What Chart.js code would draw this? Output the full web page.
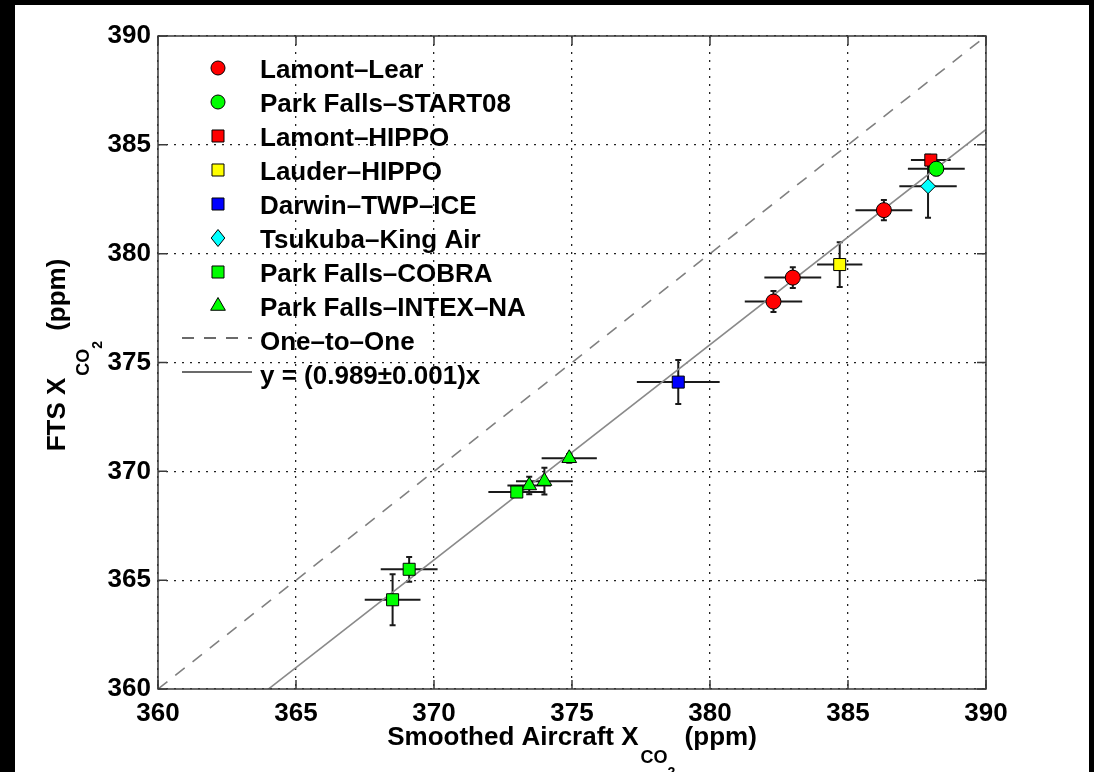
<!DOCTYPE html>
<html>
  <head>
    <script src="https://cdn.jsdelivr.net/npm/chart.js@4"></script>
    <style>
      body { margin: 0; background: #000; width: 1094px; height: 772px; overflow: hidden; }
      #plot { position: absolute; left: 15px; top: 5px; background: #fff; }
    </style>
  </head>

  <body>
    <canvas id="plot" width="1074" height="767"></canvas>
  </body>

  <script>
    // FTS vs smoothed aircraft XCO2 (ppm), with 1-sigma error bars
    var axisTicks = [360, 365, 370, 375, 380, 385, 390];

    var lamontLearX = [382.3, 383.0, 386.3];
    var lamontLearY = [377.8, 378.9, 382.0];
    var lamontLearXErr = [1.04, 1.03, 1.03];
    var lamontLearYErr = [0.48, 0.48, 0.47];

    var start08X = [388.2];
    var start08Y = [383.9];
    var start08XErr = [1.03];
    var start08YErr = [0.3];

    var lamontHippoX = [388.0];
    var lamontHippoY = [384.3];
    var lamontHippoXErr = [0.72];
    var lamontHippoYErr = [0.2];

    var lauderHippoX = [384.7];
    var lauderHippoY = [379.5];
    var lauderHippoXErr = [0.82];
    var lauderHippoYErr = [1.03];

    var darwinX = [378.85];
    var darwinY = [374.1];
    var darwinXErr = [1.5];
    var darwinYErr = [1.01];

    var tsukubaX = [387.9];
    var tsukubaY = [383.1];
    var tsukubaXErr = [1.04];
    var tsukubaYErr = [1.45];

    var cobraX = [368.5, 369.1, 373.0];
    var cobraY = [364.1, 365.5, 369.05];
    var cobraXErr = [1.01, 1.03, 1.03];
    var cobraYErr = [1.17, 0.57, 0.2];

    var intexX = [373.45, 374.0, 374.9];
    var intexY = [369.35, 369.55, 370.6];
    var intexXErr = [0.79, 1.03, 1.0];
    var intexYErr = [0.4, 0.62, 0.2];

    var fitSlope = 0.989;
    var fitSlopeErr = 0.001;

    var FONT = "'Liberation Sans', Arial, sans-serif";

    function pts(xs, ys) {
      return xs.map(function (x, i) { return { x: x, y: ys[i] }; });
    }

    function series(label, xs, ys, xe, ye, style, colour, radius) {
      return {
        type: "scatter",
        label: label,
        data: pts(xs, ys),
        xErr: xe,
        yErr: ye,
        pointStyle: style,
        pointRadius: radius,
        pointHoverRadius: radius,
        backgroundColor: colour,
        borderColor: "#000",
        borderWidth: 1,
        order: 1,
      };
    }

    var sets = [
      series("Lamont\u2013Lear", lamontLearX, lamontLearY, lamontLearXErr, lamontLearYErr, "circle", "#ff0000", 7.5),
      series("Park Falls\u2013START08", start08X, start08Y, start08XErr, start08YErr, "circle", "#00ff00", 7.5),
      series("Lamont\u2013HIPPO", lamontHippoX, lamontHippoY, lamontHippoXErr, lamontHippoYErr, "rect", "#ff0000", 8.5),
      series("Lauder\u2013HIPPO", lauderHippoX, lauderHippoY, lauderHippoXErr, lauderHippoYErr, "rect", "#ffff00", 8.5),
      series("Darwin\u2013TWP\u2013ICE", darwinX, darwinY, darwinXErr, darwinYErr, "rect", "#0000ff", 8.5),
      series("Tsukuba\u2013King Air", tsukubaX, tsukubaY, tsukubaXErr, tsukubaYErr, "rectRot", "#00ffff", 7.5),
      series("Park Falls\u2013COBRA", cobraX, cobraY, cobraXErr, cobraYErr, "rect", "#00ff00", 8.5),
      series("Park Falls\u2013INTEX\u2013NA", intexX, intexY, intexXErr, intexYErr, "triangle", "#00ff00", 8.5),
      {
        type: "line",
        label: "One\u2013to\u2013One",
        data: [{ x: 360, y: 360 }, { x: 390, y: 390 }],
        borderColor: "#808080",
        borderWidth: 1.6,
        borderDash: [12, 10],
        pointRadius: 0,
        order: 2,
      },
      {
        type: "line",
        label: "y = (" + fitSlope + "\u00b1" + fitSlopeErr + ")x",
        data: [{ x: 360, y: 360 * fitSlope }, { x: 390, y: 390 * fitSlope }],
        borderColor: "#8a8a8a",
        borderWidth: 1.6,
        pointRadius: 0,
        order: 2,
      },
    ];

    function marker(ctx, style, x, y, r, fill) {
      ctx.save();
      ctx.fillStyle = fill;
      ctx.strokeStyle = "#000";
      ctx.lineWidth = 1;
      ctx.beginPath();
      if (style === "circle") {
        ctx.arc(x, y, r, 0, Math.PI * 2);
      } else if (style === "rect") {
        var s = r * Math.SQRT1_2;
        ctx.rect(x - s, y - s, 2 * s, 2 * s);
      } else if (style === "rectRot") {
        ctx.moveTo(x, y - r);
        ctx.lineTo(x + r * 0.8, y);
        ctx.lineTo(x, y + r);
        ctx.lineTo(x - r * 0.8, y);
        ctx.closePath();
      } else if (style === "triangle") {
        ctx.moveTo(x, y - r);
        ctx.lineTo(x + r * 0.866, y + r / 2);
        ctx.lineTo(x - r * 0.866, y + r / 2);
        ctx.closePath();
      }
      ctx.fill();
      ctx.stroke();
      ctx.restore();
    }

    // draws text pieces in a row, each with its own size and baseline shift
    function subText(ctx, parts, x, y) {
      var cx = x;
      parts.forEach(function (p) {
        ctx.font = "bold " + p.size + "px " + FONT;
        ctx.fillText(p.text, cx, y + p.dy);
        cx += ctx.measureText(p.text).width + (p.gap || 0);
      });
    }
    function subWidth(ctx, parts) {
      var w = 0;
      parts.forEach(function (p) {
        ctx.font = "bold " + p.size + "px " + FONT;
        w += ctx.measureText(p.text).width + (p.gap || 0);
      });
      return w;
    }

    var errorBars = {
      id: "errorBars",
      beforeDatasetsDraw: function (chart) {
        var ctx = chart.ctx;
        var xs = chart.scales.x, ys = chart.scales.y;
        ctx.save();
        ctx.strokeStyle = "#1a1a1a";
        ctx.lineWidth = 2;
        chart.data.datasets.forEach(function (ds) {
          if (!ds.xErr) return;
          ds.data.forEach(function (p, i) {
            var px = xs.getPixelForValue(p.x), py = ys.getPixelForValue(p.y);
            var x0 = xs.getPixelForValue(p.x - ds.xErr[i]);
            var x1 = xs.getPixelForValue(p.x + ds.xErr[i]);
            var y0 = ys.getPixelForValue(p.y - ds.yErr[i]);
            var y1 = ys.getPixelForValue(p.y + ds.yErr[i]);
            ctx.beginPath();
            ctx.moveTo(x0, py); ctx.lineTo(x1, py);
            ctx.moveTo(px, y0); ctx.lineTo(px, y1);
            ctx.moveTo(px - 3, y0); ctx.lineTo(px + 3, y0);
            ctx.moveTo(px - 3, y1); ctx.lineTo(px + 3, y1);
            ctx.stroke();
          });
        });
        ctx.restore();
      },
    };

    var frameAndText = {
      id: "frameAndText",
      afterDraw: function (chart) {
        var ctx = chart.ctx;
        var a = chart.chartArea;
        var xs = chart.scales.x, ys = chart.scales.y;
        ctx.save();

        // box with inward ticks on all sides
        ctx.strokeStyle = "#3a3a3a";
        ctx.lineWidth = 1.5;
        ctx.strokeRect(a.left, a.top, a.right - a.left, a.bottom - a.top);
        ctx.beginPath();
        axisTicks.forEach(function (t) {
          var px = xs.getPixelForValue(t), py = ys.getPixelForValue(t);
          ctx.moveTo(px, a.bottom); ctx.lineTo(px, a.bottom - 9);
          ctx.moveTo(px, a.top); ctx.lineTo(px, a.top + 9);
          ctx.moveTo(a.left, py); ctx.lineTo(a.left + 9, py);
          ctx.moveTo(a.right, py); ctx.lineTo(a.right - 9, py);
        });
        ctx.stroke();

        // legend
        ctx.fillStyle = "#000";
        ctx.textBaseline = "alphabetic";
        ctx.textAlign = "left";
        var mx = a.left + 60, tx = a.left + 102;
        chart.data.datasets.forEach(function (ds, i) {
          var cy = a.top + 32 + i * 34;
          if (ds.type === "scatter") {
            var r = ds.pointStyle === "circle" ? 7 : 8.5;
            marker(ctx, ds.pointStyle, mx, cy, r, ds.backgroundColor);
          } else {
            ctx.save();
            ctx.strokeStyle = "#3a3a3a";
            ctx.lineWidth = 1.5;
            ctx.setLineDash(ds.borderDash || []);
            ctx.beginPath();
            ctx.moveTo(a.left + 24, cy - 2);
            ctx.lineTo(a.left + 94, cy - 2);
            ctx.stroke();
            ctx.restore();
          }
          ctx.font = "bold 26px " + FONT;
          ctx.fillText(ds.label, tx, cy + 10);
        });

        // x axis title
        var xt = [
          { text: "Smoothed Aircraft X", size: 26, dy: 0, gap: 2 },
          { text: "CO", size: 18, dy: 18 },
          { text: "2", size: 14, dy: 32, gap: 2 },
          { text: " (ppm)", size: 26, dy: 0 },
        ];
        var w = subWidth(ctx, xt);
        subText(ctx, xt, (a.left + a.right) / 2 - w / 2, a.bottom + 56);

        // y axis title, rotated
        var yt = [
          { text: "FTS X", size: 26, dy: 0, gap: 2 },
          { text: "CO", size: 18, dy: 24 },
          { text: "2", size: 14, dy: 37, gap: 10 },
          { text: "(ppm)", size: 26, dy: 0 },
        ];
        w = subWidth(ctx, yt);
        ctx.translate(50, 350);
        ctx.rotate(-Math.PI / 2);
        subText(ctx, yt, -w / 2, 0);

        ctx.restore();
      },
    };

    function tickOpts() {
      return {
        min: 360,
        max: 390,
        ticks: {
          stepSize: 5,
          color: "#000",
          font: { family: FONT, size: 26, weight: "bold" },
        },
        grid: { color: "#222", lineWidth: 1.3, drawTicks: false },
        border: { display: false, dash: [2, 6] },
      };
    }

    var xOpts = tickOpts();
    xOpts.type = "linear";
    xOpts.position = "bottom";
    xOpts.ticks.padding = 9;
    xOpts.afterFit = function (s) { s.height = 83; };

    var yOpts = tickOpts();
    yOpts.type = "linear";
    yOpts.ticks.padding = 7;
    yOpts.afterFit = function (s) { s.width = 143; };

    new Chart(document.getElementById("plot").getContext("2d"), {
      type: "scatter",
      data: { datasets: sets },
      options: {
        responsive: false,
        devicePixelRatio: 1,
        animation: false,
        layout: { padding: { top: 31, right: 103, left: 0, bottom: 0 } },
        scales: { x: xOpts, y: yOpts },
        plugins: { legend: { display: false }, tooltip: { enabled: false } },
      },
      plugins: [errorBars, frameAndText],
    });
  </script>
</html>
